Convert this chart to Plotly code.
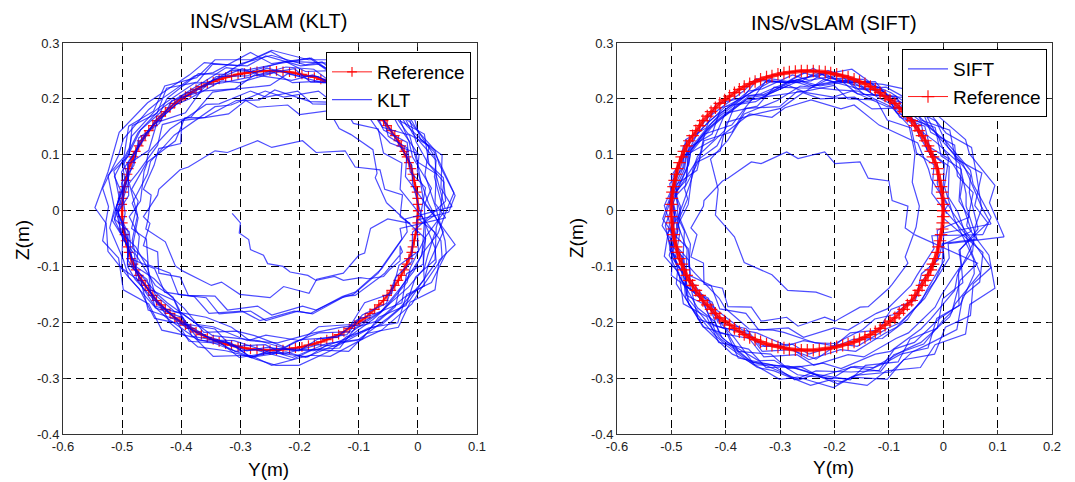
import plotly.graph_objects as go

# ---------------- data (millimetres) ----------------
REF_Y_MM = [0, 0, -1, -2, -4, -6, -9, -11, -15, -19, -23, -28, -33, -39, -45, -52, -58, -66, -73, -81,
            -89, -98, -107, -116, -125, -134, -144, -154, -164, -175, -185, -196, -207, -217, -228, -239,
            -250, -261, -272, -283, -293, -304, -315, -325, -336, -346, -356, -366, -375, -384, -393, -402,
            -411, -419, -427, -434, -442, -448, -455, -461, -467, -472, -477, -481, -485, -489, -491, -494,
            -496, -498, -499, -500,
            -500, -500, -499, -498, -496, -494, -491, -489, -485, -481, -477, -472, -467, -461, -455, -448,
            -442, -434, -427, -419, -411, -402, -393, -384, -375, -366, -356, -346, -336, -325, -315, -304,
            -293, -283, -272, -261,
            -250, -239, -228, -217, -207, -196, -185, -175, -164, -154, -144, -134, -125, -116, -107, -98,
            -89, -81, -73, -66, -58, -52, -45, -39, -33, -28, -23, -19, -15, -11, -9, -6, -4, -2, -1, 0, 0]
REF_Z_MM = [0, 11, 22, 33, 43, 54, 65, 75, 86, 96, 106, 116, 125, 134, 143, 152, 161, 169, 177, 184,
            192, 198, 205, 211, 217, 222, 227, 231, 235, 239, 241, 244, 246, 248, 249, 250,
            250, 250, 249, 248, 246, 244, 241, 239, 235, 231, 227, 222, 217, 211, 205, 198, 192, 184,
            177, 169, 161, 152, 143, 134, 125, 116, 106, 96, 86, 75, 65, 54, 43, 33, 22, 11,
            0, -11, -22, -33, -43, -54, -65, -75, -86, -96, -106, -116, -125, -134, -143, -152, -161, -169,
            -177, -184, -192, -198, -205, -211, -217, -222, -227, -231, -235, -239, -241, -244, -246, -248,
            -249, -250,
            -250, -250, -249, -248, -246, -244, -241, -239, -235, -231, -227, -222, -217, -211, -205, -198,
            -192, -184, -177, -169, -161, -152, -143, -134, -125, -116, -106, -96, -86, -75, -65, -54,
            -43, -33, -22, -11, 0]

KLT_Y_MM = [
    [46, 31, 29, -5, -20, -67, -94, -150, -185, -247, -282, -343, -374, -428, -447, -489, -497, -524,
     -513, -521, -498, -489, -447, -426, -374, -343, -283, -246, -186, -150, -94, -66, -20, -4, 29, 31],
    [37, 44, 19, 11, -29, -49, -101, -131, -190, -224, -284, -315, -372, -398, -445, -457, -491, -489,
     -507, -490, -491, -458, -444, -397, -371, -316, -283, -223, -190, -131, -102, -50, -30, 11, 18, 43],
    [18, -1, 2, -33, -44, -91, -113, -168, -198, -257, -288, -347, -373, -425, -441, -483, -488, -514,
     -503, -513, -487, -482, -442, -424, -373, -346, -288, -257, -198, -168, -113, -90, -44, -32, 1, -2],
    [52, 63, 36, 29, -13, -33, -87, -117, -178, -213, -276, -309, -367, -393, -441, -455, -490, -489,
     -507, -489, -490, -455, -441, -393, -367, -309, -276, -213, -178, -117, -87, -33, -13, 29, 36, 63],
    [-4, -21, -18, -50, -61, -106, -128, -181, -209, -267, -297, -353, -378, -428, -445, -484, -488, -513,
     -503, -513, -488, -484, -445, -428, -378, -353, -297, -267, -209, -181, -128, -106, -61, -50, -18, -21],
    [58, 39, 41, 4, -10, -61, -88, -148, -183, -247, -283, -346, -378, -433, -455, -498, -506, -533,
     -523, -533, -506, -498, -455, -433, -378, -346, -283, -247, -183, -148, -88, -61, -10, 4, 41, 39],
    [-14, -30, -27, -58, -67, -109, -128, -178, -203, -257, -283, -336, -358, -405, -419, -456, -459, -484,
     -473, -484, -459, -456, -419, -405, -358, -336, -283, -257, -203, -178, -128, -109, -67, -58, -27, -30],
    [47, 29, 31, -2, -14, -60, -83, -138, -168, -227, -258, -316, -343, -394, -412, -452, -457, -483,
     -473, -483, -457, -452, -412, -394, -343, -316, -258, -227, -168, -138, -83, -60, -14, -2, 31, 29],
    [5, -9, -10, -38, -53, -94, -120, -169, -201, -255, -289, -341, -370, -416, -437, -472, -480, -501,
     -495, -501, -480, -472, -437, -416, -370, -341, -289, -255, -201, -169, -120, -94, -53, -38, -10, -9],
    [47, 43, 17, -3, -16, -49, -102, -145, -176, -223, -284, -329, -358, -397, -444, -471, -477, -489,
     -507, -503, -477, -457, -444, -411, -358, -315, -284, -237, -176, -131, -102, -63, -16, 11, 17, 29],
    [3, 13, -13, -18, -58, -76, -127, -154, -212, -243, -302, -332, -387, -410, -456, -468, -501, -499,
     -517, -499, -501, -468, -456, -410, -387, -332, -302, -243, -212, -154, -127, -76, -58, -18, -13, 13],
    [44, 28, 31, -9, -30, -54, -111, -139, -180, -241, -292, -324, -361, -421, -437, -473, -498, -490,
     -511, -499, -479, -476, -445, -401, -382, -321, -281, -244, -181, -132, -105, -69, -24, 11, 9, 34],
    [49, 61, 36, 27, -19, -37, -78, -132, -161, -220, -250, -315, -347, -383, -432, -440, -473, -488,
     -474, -483, -478, -444, -414, -401, -347, -297, -268, -214, -176, -111, -83, -34, -19, 23, 48, 46],
    [30, 12, 19, -17, -48, -65, -118, -151, -218, -249, -302, -361, -386, -440, -457, -505, -515, -524,
     -546, -527, -524, -488, -471, -445, -387, -346, -311, -244, -210, -168, -112, -63, -49, -7, 7, 11],
    [28, 10, 3, -3, -47, -66, -94, -151, -182, -242, -268, -307, -360, -394, -410, -457, -463, -469,
     -488, -471, -476, -446, -413, -395, -362, -306, -276, -224, -198, -136, -102, -78, -27, -19, 9, 13],
    [11, 23, -9, -15, -37, -89, -113, -162, -190, -248, -299, -327, -371, -424, -436, -469, -499, -495,
     -510, -490, -491, -478, -432, -419, -372, -325, -301, -240, -201, -146, -121, -82, -38, -32, 6, 13],
    [-53, -72, -69, -76, -113, -133, -150, -200, -220, -271, -291, -320, -363, -399, -401, -438, -446, -464,
     -451, -456, -460, -427, -410, -398, -349, -332, -301, -250, -227, -184, -171, -126, -100, -90, -80, -51],
    [-13, -30, -26, -56, -64, -106, -123, -172, -195, -247, -271, -322, -343, -388, -402, -438, -440, -464,
     -453, -464, -440, -438, -402, -388, -343, -322, -271, -247, -195, -172, -123, -106, -64, -56, -26, -30],
    [-30, -47, -58, -84, -97, -126, -141, -172, -186, -216, -228, -254, -261, -283, -286, -302, -300, -314],
]
KLT_Z_MM = [
    [4, 63, 96, 151, 178, 224, 238, 270, 270, 287, 270, 270, 238, 223, 178, 151, 96, 63,
     4, -31, -88, -119, -170, -191, -230, -238, -262, -254, -262, -238, -230, -191, -170, -119, -88, -31],
    [-7, 51, 82, 137, 160, 206, 218, 251, 249, 267, 249, 251, 219, 206, 160, 137, 83, 51,
     -6, -38, -96, -123, -174, -192, -232, -237, -263, -253, -263, -237, -232, -192, -174, -123, -96, -38],
    [13, 71, 99, 152, 174, 219, 230, 262, 259, 277, 259, 262, 230, 219, 174, 152, 99, 71,
     13, -17, -73, -98, -148, -165, -204, -208, -233, -223, -233, -208, -204, -165, -148, -98, -73, -17],
    [-3, 27, 83, 108, 158, 175, 214, 218, 243, 233, 243, 218, 214, 175, 158, 108, 83, 27,
     -3, -61, -89, -142, -164, -209, -220, -252, -249, -267, -249, -252, -220, -209, -164, -142, -89, -61],
    [37, 61, 112, 133, 178, 192, 228, 230, 254, 243, 254, 230, 228, 192, 178, 133, 112, 61,
     37, -15, -38, -87, -104, -146, -154, -184, -180, -197, -180, -184, -154, -146, -104, -87, -38, -15],
    [7, 40, 99, 128, 181, 200, 241, 247, 273, 263, 283, 247, 241, 200, 181, 128, 99, 40,
     7, -54, -85, -142, -167, -214, -227, -261, -259, -277, -259, -261, -227, -214, -167, -142, -85, -54],
    [17, 38, 85, 103, 146, 156, 190, 191, 214, 203, 214, 191, 190, 156, 146, 103, 85, 38,
     17, -32, -51, -97, -112, -150, -156, -185, -180, -197, -180, -185, -156, -150, -112, -97, -51, -32],
    [-13, 13, 66, 88, 135, 149, 186, 189, 214, 203, 214, 189, 186, 149, 135, 88, 66, 13,
     -13, -67, -92, -142, -161, -203, -212, -243, -240, -257, -240, -243, -212, -203, -161, -142, -92, -67],
    [-5, 49, 81, 130, 156, 197, 212, 240, 241, 255, 241, 240, 212, 197, 156, 130, 81, 49,
     -5, -39, -91, -120, -166, -187, -222, -230, -251, -245, -251, -230, -222, -187, -166, -120, -91, -39],
    [17, 59, 85, 123, 171, 201, 211, 229, 253, 257, 239, 229, 225, 201, 157, 123, 99, 59,
     3, -39, -65, -103, -151, -181, -191, -209, -233, -237, -219, -209, -205, -181, -137, -103, -79, -39],
    [-17, 41, 69, 122, 144, 189, 200, 232, 229, 247, 229, 232, 200, 189, 144, 122, 69, 41,
     -17, -47, -103, -128, -178, -195, -234, -238, -263, -253, -263, -238, -234, -195, -178, -128, -103, -47],
    [-3, 60, 90, 138, 183, 195, 232, 243, 273, 262, 251, 256, 231, 192, 180, 140, 87, 59,
     3, -51, -78, -121, -171, -184, -225, -236, -263, -247, -249, -246, -209, -198, -156, -135, -75, -41],
    [2, 32, 88, 106, 152, 185, 191, 229, 229, 245, 224, 217, 212, 168, 154, 117, 69, 49,
     -8, -53, -77, -134, -155, -182, -224, -230, -233, -250, -251, -225, -210, -201, -150, -129, -76, -54],
    [6, 64, 116, 138, 184, 203, 248, 264, 267, 285, 259, 265, 243, 206, 193, 140, 102, 69,
     5, -23, -73, -121, -140, -193, -206, -232, -233, -256, -236, -219, -217, -182, -164, -109, -78, -21],
    [-9, 13, 63, 103, 121, 142, 185, 194, 195, 216, 198, 197, 167, 166, 125, 87, 70, 17,
     -11, -46, -101, -122, -158, -175, -218, -216, -224, -245, -231, -227, -195, -187, -165, -113, -96, -51],
    [10, 40, 96, 124, 180, 209, 225, 266, 261, 278, 263, 244, 245, 201, 175, 144, 80, 52,
     7, -51, -100, -123, -176, -201, -244, -251, -257, -277, -277, -250, -226, -212, -172, -144, -81, -50],
    [14, 59, 67, 109, 136, 147, 179, 172, 189, 185, 197, 173, 166, 161, 120, 111, 81, 38,
     28, -14, -33, -56, -99, -108, -134, -128, -150, -156, -136, -148, -123, -112, -80, -76, -32, -15],
    [-23, -11, 28, 38, 73, 78, 107, 104, 125, 113, 125, 104, 107, 78, 73, 38, 28, -11,
     -23, -63, -74, -112, -119, -152, -153, -178, -171, -187, -171, -178, -153, -152, -119, -112, -74, -63],
    [-90, -105, -118, -122, -120, -125, -118, -125, -116, -110, -100, -95, -80, -70, -52, -40, -22, -5],
]

SIFT_Y_MM = [
    [6, -11, -9, -40, -51, -96, -119, -171, -200, -257, -288, -343, -369, -418, -436, -474, -479, -503,
     -494, -503, -479, -474, -436, -418, -369, -343, -288, -257, -200, -171, -119, -96, -51, -40, -9, -11],
    [48, 29, 33, -4, -15, -64, -87, -146, -175, -238, -269, -330, -357, -412, -429, -472, -476, -503,
     -493, -503, -476, -472, -429, -412, -357, -330, -269, -238, -175, -146, -87, -64, -15, -4, 33, 29],
    [82, 58, 71, 22, 12, -41, -68, -128, -163, -227, -263, -326, -358, -413, -435, -478, -486, -513,
     -503, -513, -486, -478, -435, -413, -358, -326, -263, -227, -163, -128, -68, -41, 12, 22, 68, 55],
    [27, 9, 11, -22, -34, -80, -103, -158, -188, -247, -278, -336, -363, -414, -432, -472, -477, -503,
     -493, -503, -477, -472, -432, -414, -363, -336, -278, -247, -188, -158, -103, -80, -34, -22, 11, 9],
    [112, 85, 95, 48, 41, -15, -42, -105, -140, -208, -244, -311, -342, -401, -422, -468, -474, -504,
     -493, -504, -474, -468, -422, -401, -342, -311, -244, -208, -140, -105, -42, -15, 41, 49, 95, 84],
    [43, 55, 26, 21, -23, -41, -97, -125, -188, -221, -286, -317, -377, -401, -451, -463, -500, -497,
     -517, -497, -500, -463, -451, -401, -377, -317, -286, -221, -188, -125, -97, -41, -23, 21, 26, 55],
    [-3, -21, -17, -49, -59, -103, -123, -175, -201, -257, -285, -339, -363, -411, -427, -465, -469, -493,
     -483, -493, -469, -465, -427, -411, -363, -339, -285, -257, -201, -175, -123, -103, -59, -49, -17, -21],
    [73, 88, 55, 50, 4, -16, -73, -103, -168, -202, -268, -301, -363, -388, -440, -453, -491, -488,
     -508, -488, -491, -453, -440, -388, -363, -301, -268, -202, -168, -103, -73, -16, 4, 50, 55, 88],
    [17, -1, 2, -30, -41, -86, -108, -161, -189, -247, -277, -333, -358, -408, -425, -464, -468, -493,
     -483, -493, -468, -464, -425, -408, -358, -333, -277, -247, -189, -161, -108, -86, -41, -30, 2, -1],
    [52, 31, 36, -1, -11, -61, -83, -143, -171, -235, -265, -327, -353, -409, -425, -469, -472, -501,
     -488, -501, -472, -469, -425, -409, -353, -327, -265, -235, -171, -143, -83, -61, -11, -1, 36, 31],
    [64, 48, 50, 9, -13, -38, -96, -125, -168, -231, -284, -318, -356, -417, -434, -471, -497, -490,
     -511, -499, -478, -474, -442, -397, -377, -315, -273, -234, -169, -118, -90, -53, -7, 29, 28, 54],
    [59, 71, 45, 35, -12, -31, -73, -128, -159, -220, -252, -319, -352, -389, -439, -448, -482, -498,
     -484, -493, -487, -452, -421, -407, -352, -301, -270, -214, -174, -107, -78, -28, -12, 31, 57, 56],
    [20, 2, 10, -24, -53, -68, -118, -148, -212, -239, -288, -344, -366, -417, -432, -478, -486, -494,
     -516, -497, -495, -461, -446, -422, -367, -329, -297, -234, -204, -165, -112, -66, -54, -14, -2, 1],
    [88, 70, 61, 52, 5, -17, -49, -111, -147, -212, -243, -287, -345, -383, -402, -452, -461, -469,
     -488, -471, -474, -441, -405, -384, -347, -286, -251, -194, -163, -96, -57, -29, 25, 36, 67, 73],
    [-4, 8, -22, -27, -47, -97, -118, -164, -188, -243, -291, -315, -356, -406, -416, -447, -476, -470,
     -485, -465, -468, -456, -412, -401, -357, -313, -293, -235, -199, -148, -126, -90, -48, -44, -7, -2],
    [62, 42, 42, 30, -14, -43, -70, -131, -163, -226, -258, -299, -353, -399, -410, -454, -467, -488,
     -476, -480, -481, -443, -419, -398, -339, -311, -268, -205, -170, -115, -91, -36, -1, 16, 31, 63],
    [-53, -70, -65, -94, -100, -138, -153, -199, -218, -267, -288, -335, -353, -396, -406, -440, -441, -464,
     -453, -464, -441, -440, -406, -396, -353, -335, -288, -267, -218, -199, -153, -138, -100, -94, -65, -70],
    [-50, -44, -57, -52, -63, -96, -157, -196, -263, -305, -366, -396, -428, -414, -419, -384, -366, -315,
     -286, -234, -205],
]
SIFT_Z_MM = [
    [-6, 48, 76, 127, 148, 191, 202, 233, 230, 247, 230, 233, 202, 191, 148, 127, 76, 48,
     -6, -35, -88, -113, -160, -177, -214, -219, -242, -233, -242, -219, -214, -177, -160, -113, -88, -35],
    [-12, 17, 74, 98, 149, 165, 205, 208, 234, 223, 234, 208, 205, 165, 149, 98, 74, 17,
     -12, -71, -98, -152, -173, -219, -229, -262, -258, -277, -258, -262, -229, -219, -173, -152, -98, -71],
    [-22, 9, 67, 93, 144, 162, 202, 207, 233, 223, 233, 207, 202, 162, 144, 93, 67, 9,
     -22, -82, -112, -167, -190, -236, -248, -281, -279, -297, -279, -281, -248, -236, -190, -167, -112, -82],
    [-3, 25, 79, 103, 151, 167, 205, 209, 233, 223, 233, 209, 205, 167, 151, 103, 79, 25,
     -3, -59, -85, -137, -157, -201, -211, -243, -239, -257, -239, -243, -211, -201, -157, -137, -85, -59],
    [-47, 14, 45, 102, 127, 174, 187, 221, 219, 237, 219, 221, 187, 174, 127, 102, 45, 14,
     -47, -80, -139, -168, -221, -240, -281, -287, -313, -303, -313, -287, -281, -240, -221, -168, -139, -80],
    [-27, 32, 62, 117, 140, 186, 198, 231, 229, 247, 229, 231, 198, 186, 140, 117, 62, 32,
     -27, -58, -116, -143, -194, -212, -252, -257, -283, -273, -283, -257, -252, -212, -194, -143, -116, -58],
    [7, 31, 82, 103, 148, 162, 198, 200, 224, 213, 224, 200, 198, 162, 148, 103, 82, 31,
     7, -45, -68, -117, -134, -176, -184, -214, -210, -227, -210, -214, -184, -176, -134, -117, -68, -45],
    [-43, -12, 47, 72, 125, 141, 183, 186, 214, 203, 214, 186, 183, 141, 125, 72, 47, -12,
     -43, -102, -131, -188, -209, -257, -267, -302, -298, -317, -298, -302, -267, -257, -209, -188, -131, -102],
    [-3, 27, 83, 108, 158, 175, 214, 218, 243, 233, 243, 218, 214, 175, 158, 108, 83, 27,
     -3, -61, -89, -142, -164, -209, -220, -252, -249, -267, -249, -252, -220, -209, -164, -142, -89, -61],
    [-37, 24, 55, 112, 137, 184, 197, 231, 229, 247, 229, 231, 197, 184, 137, 112, 55, 24,
     -37, -70, -129, -158, -211, -230, -271, -277, -303, -293, -303, -277, -271, -230, -211, -158, -129, -70],
    [-33, 32, 63, 113, 160, 173, 211, 223, 253, 242, 231, 236, 210, 170, 157, 115, 60, 31,
     -27, -83, -111, -156, -208, -222, -264, -276, -303, -287, -289, -286, -248, -236, -193, -170, -108, -73],
    [-28, 5, 65, 86, 135, 170, 178, 217, 219, 235, 214, 205, 199, 153, 137, 97, 46, 22,
     -38, -86, -114, -174, -198, -227, -271, -278, -283, -300, -301, -273, -257, -246, -193, -169, -113, -87],
    [-14, 43, 93, 113, 158, 176, 220, 235, 237, 255, 229, 236, 215, 179, 167, 115, 79, 48,
     -15, -42, -90, -136, -154, -206, -218, -243, -243, -266, -246, -230, -229, -195, -178, -124, -95, -40],
    [-24, 7, 65, 113, 139, 165, 213, 226, 229, 251, 232, 229, 195, 189, 143, 97, 72, 11,
     -26, -70, -133, -162, -206, -228, -276, -278, -288, -310, -295, -289, -253, -240, -213, -153, -128, -75],
    [-10, 9, 56, 74, 121, 143, 153, 189, 182, 198, 184, 167, 173, 135, 116, 94, 40, 21,
     -13, -60, -100, -113, -157, -175, -212, -214, -218, -237, -238, -213, -194, -186, -153, -134, -81, -59],
    [-51, 8, 30, 84, 123, 144, 184, 182, 203, 200, 211, 183, 171, 158, 107, 86, 44, -13,
     -37, -93, -126, -161, -216, -235, -269, -268, -294, -301, -280, -288, -258, -239, -197, -181, -125, -94],
    [-43, -31, 8, 18, 53, 58, 87, 84, 105, 93, 105, 84, 87, 58, 53, 18, 8, -31,
     -43, -83, -94, -132, -139, -172, -173, -198, -191, -207, -191, -198, -173, -172, -139, -132, -94, -83],
    [-30, 8, 51, 103, 152, 186, 214, 216, 223, 197, 173, 126, 92, 38, -8, -47, -93, -115,
     -143, -146, -156],
]

X_TICKS_LEFT = [-0.6, -0.5, -0.4, -0.3, -0.2, -0.1, 0.0, 0.1]
X_LABELS_LEFT = ["-0.6", "-0.5", "-0.4", "-0.3", "-0.2", "-0.1", "0", "0.1"]
X_TICKS_RIGHT = [-0.6, -0.5, -0.4, -0.3, -0.2, -0.1, 0.0, 0.1, 0.2]
X_LABELS_RIGHT = ["-0.6", "-0.5", "-0.4", "-0.3", "-0.2", "-0.1", "0", "0.1", "0.2"]
Z_TICKS = [-0.4, -0.3, -0.2, -0.1, 0.0, 0.1, 0.2, 0.3]
Z_LABELS = ["-0.4", "-0.3", "-0.2", "-0.1", "0", "0.1", "0.2", "0.3"]

TITLES = ["INS/vSLAM (KLT)", "INS/vSLAM (SIFT)"]

# ---------------- styles ----------------
FONT = "Liberation Sans, Arial, sans-serif"
BLUE = "rgba(0,0,255,0.70)"
RED = "rgba(255,0,0,0.9)"
RED_BAND = "rgba(255,0,0,0.75)"


def mm(v):
    return [a / 1000.0 for a in v]


def ref_traces(xa, ya, legend, band_w, ms):
    band = go.Scatter(
        x=mm(REF_Y_MM), y=mm(REF_Z_MM), xaxis=xa, yaxis=ya, mode="lines",
        showlegend=False, hoverinfo="skip", legend=legend,
        line=dict(color=RED_BAND, width=band_w),
    )
    main = go.Scatter(
        x=mm(REF_Y_MM), y=mm(REF_Z_MM), xaxis=xa, yaxis=ya, mode="lines+markers",
        name="Reference", legend=legend,
        line=dict(color=RED, width=1),
        marker=dict(symbol="cross-thin", size=ms, line=dict(color=RED, width=1.2), color=RED),
    )
    return [band, main]


def loop_traces(ys, zs, name, xa, ya, legend):
    out = []
    for k in range(len(ys)):
        yy = list(ys[k])
        zz = list(zs[k])
        if k + 1 < len(ys):
            yy.append(ys[k + 1][0])
            zz.append(zs[k + 1][0])
        out.append(go.Scatter(
            x=mm(yy), y=mm(zz), xaxis=xa, yaxis=ya, mode="lines",
            name=name, legend=legend, legendgroup=name, showlegend=(k == 0),
            line=dict(color=BLUE, width=1.2),
        ))
    return out


fig = go.Figure()
for t in ref_traces("x", "y", "legend", 2.5, 7):
    fig.add_trace(t)
for t in loop_traces(KLT_Y_MM, KLT_Z_MM, "KLT", "x", "y", "legend"):
    fig.add_trace(t)
for t in loop_traces(SIFT_Y_MM, SIFT_Z_MM, "SIFT", "x2", "y2", "legend2"):
    fig.add_trace(t)
for t in ref_traces("x2", "y2", "legend2", 4, 9):
    fig.add_trace(t)

W, H = 1075, 482
OFF = 8  # page body margin of the rendered html


def px_x(p):
    return (p - OFF) / W


def px_y(p):
    return 1 - (p - OFF) / H


axis_common = dict(
    showgrid=True, gridcolor="black", gridwidth=1, griddash="8px,5px",
    zeroline=False, showline=True, linecolor="#333333", linewidth=1, mirror="ticks",
    ticks="inside", ticklen=4, tickcolor="#333333",
    tickfont=dict(family=FONT, size=13, color="#222222"),
    tickmode="array", fixedrange=True, automargin=False,
)

fig.update_layout(
    width=W, height=H,
    margin=dict(l=0, r=0, t=0, b=0, pad=0, autoexpand=False),
    paper_bgcolor="white", plot_bgcolor="white",
    showlegend=True,
    xaxis=dict(domain=[px_x(63), px_x(477)], range=[-0.6, 0.1], anchor="y",
               tickvals=X_TICKS_LEFT, ticktext=X_LABELS_LEFT, **axis_common),
    yaxis=dict(domain=[px_y(434), px_y(43)], range=[-0.4, 0.3], anchor="x",
               tickvals=Z_TICKS, ticktext=Z_LABELS, **axis_common),
    xaxis2=dict(domain=[px_x(617), px_x(1052)], range=[-0.6, 0.2], anchor="y2",
                tickvals=X_TICKS_RIGHT, ticktext=X_LABELS_RIGHT, **axis_common),
    yaxis2=dict(domain=[px_y(434), px_y(43)], range=[-0.4, 0.3], anchor="x2",
                tickvals=Z_TICKS, ticktext=Z_LABELS, **axis_common),
    legend=dict(x=px_x(471), xanchor="right", y=px_y(52), yanchor="top",
                bgcolor="white", bordercolor="black", borderwidth=1,
                font=dict(family=FONT, size=19, color="black"), tracegroupgap=0,
                itemwidth=40),
    legend2=dict(x=px_x(1047), xanchor="right", y=px_y(49), yanchor="top",
                 bgcolor="white", bordercolor="black", borderwidth=1,
                 font=dict(family=FONT, size=19, color="black"), tracegroupgap=0,
                 itemwidth=40),
)

ann_font = dict(family=FONT, size=20, color="black")
lab_font = dict(family=FONT, size=19, color="black")
annotations = [
    dict(text=TITLES[0], x=px_x(268), y=px_y(21), xref="paper", yref="paper",
         xanchor="center", yanchor="middle", showarrow=False, font=ann_font),
    dict(text=TITLES[1], x=px_x(834), y=px_y(23), xref="paper", yref="paper",
         xanchor="center", yanchor="middle", showarrow=False, font=ann_font),
    dict(text="Y(m)", x=px_x(268), y=px_y(469), xref="paper", yref="paper",
         xanchor="center", yanchor="middle", showarrow=False, font=lab_font),
    dict(text="Y(m)", x=px_x(833), y=px_y(467), xref="paper", yref="paper",
         xanchor="center", yanchor="middle", showarrow=False, font=lab_font),
    dict(text="Z(m)", x=px_x(22), y=px_y(240), xref="paper", yref="paper",
         xanchor="center", yanchor="middle", showarrow=False, font=lab_font, textangle=-90),
    dict(text="Z(m)", x=px_x(576), y=px_y(238), xref="paper", yref="paper",
         xanchor="center", yanchor="middle", showarrow=False, font=lab_font, textangle=-90),
]
fig.update_layout(annotations=annotations)

fig.write_html("out.html")
